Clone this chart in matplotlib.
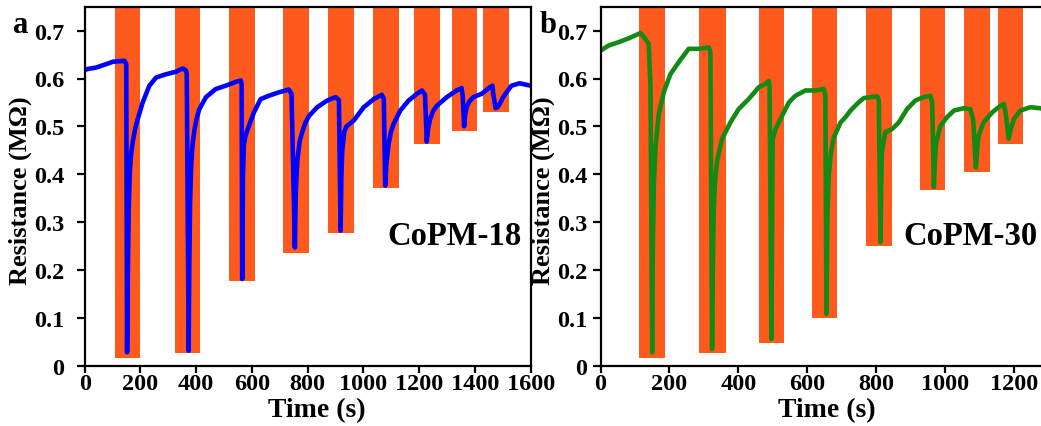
import matplotlib
matplotlib.use("Agg")
import matplotlib.pyplot as plt
from matplotlib.ticker import FuncFormatter

plt.rcParams['font.family'] = ['Liberation Serif', 'DejaVu Serif']
plt.rcParams['font.weight'] = 'bold'

# ---------------- data ----------------
# Panel a : CoPM-18
a_gas_on = [107, 324, 519, 710, 874, 1033, 1182, 1317, 1430]
a_gas_off = [199, 415, 610, 805, 966, 1126, 1274, 1409, 1522]
a_bar_low = [0.016, 0.026, 0.176, 0.235, 0.277, 0.371, 0.463, 0.490, 0.531]

a_time = [0, 12, 42, 77, 101, 143, 149, 152, 155, 158, 162, 167, 173, 181, 190, 208,
          232, 256, 292, 327, 351, 363, 366, 373, 375, 378, 382, 387, 393, 401, 411,
          435, 470, 506, 542, 560, 563, 565, 568, 571, 577, 589, 607, 631, 661, 696,
          732, 742, 754, 757, 763, 771, 781, 792, 805, 834, 870, 900, 912, 918, 921,
          924, 931, 939, 965, 1001, 1037, 1066, 1073, 1078, 1082, 1090, 1098, 1108,
          1132, 1162, 1192, 1210, 1221, 1227, 1232, 1239, 1250, 1263, 1299, 1334,
          1352, 1356, 1361, 1365, 1370, 1380, 1394, 1424, 1454, 1463, 1465, 1474,
          1481, 1489, 1500, 1513, 1531, 1560, 1600]
a_res = [0.618, 0.620, 0.623, 0.630, 0.635, 0.637, 0.630, 0.028, 0.200, 0.330, 0.405,
         0.445, 0.470, 0.495, 0.515, 0.550, 0.585, 0.602, 0.609, 0.614, 0.621, 0.617,
         0.610, 0.031, 0.200, 0.340, 0.420, 0.462, 0.490, 0.515, 0.536, 0.561, 0.578,
         0.585, 0.593, 0.596, 0.588, 0.181, 0.400, 0.462, 0.481, 0.501, 0.529, 0.557,
         0.564, 0.571, 0.577, 0.568, 0.247, 0.360, 0.430, 0.468, 0.490, 0.508, 0.522,
         0.540, 0.554, 0.561, 0.555, 0.282, 0.400, 0.450, 0.488, 0.500, 0.512, 0.540,
         0.557, 0.566, 0.558, 0.376, 0.420, 0.462, 0.487, 0.505, 0.533, 0.554, 0.568,
         0.575, 0.566, 0.468, 0.495, 0.515, 0.532, 0.543, 0.561, 0.575, 0.580, 0.565,
         0.500, 0.525, 0.540, 0.552, 0.561, 0.568, 0.582, 0.585, 0.570, 0.538, 0.540,
         0.547, 0.560, 0.571, 0.585, 0.590, 0.585]

# Panel b : CoPM-30
b_gas_on = [111, 287, 460, 613, 771, 927, 1055, 1153]
b_gas_off = [187, 363, 534, 687, 847, 1000, 1130, 1227]
b_bar_low = [0.016, 0.026, 0.047, 0.099, 0.250, 0.367, 0.405, 0.463]

b_time = [0, 24, 53, 82, 101, 116, 130, 140, 145, 150, 152, 155, 160, 169, 184, 203,
          227, 256, 285, 314, 319, 324, 326, 329, 333, 339, 353, 377, 401, 430, 460,
          479, 489, 491, 496, 500, 508, 527, 547, 566, 595, 624, 648, 653, 656, 659,
          663, 669, 677, 697, 711, 726, 745, 764, 803, 808, 813, 815, 817, 827, 846,
          866, 890, 914, 938, 958, 963, 968, 971, 975, 987, 1006, 1026, 1055, 1074,
          1082, 1090, 1094, 1098, 1112, 1137, 1161, 1171, 1176, 1185, 1190, 1200,
          1219, 1248, 1275, 1300]
b_res = [0.658, 0.669, 0.676, 0.684, 0.690, 0.695, 0.683, 0.672, 0.585, 0.028, 0.250,
         0.380, 0.460, 0.525, 0.572, 0.609, 0.634, 0.662, 0.662, 0.665, 0.655, 0.035,
         0.200, 0.330, 0.390, 0.430, 0.474, 0.508, 0.536, 0.557, 0.582, 0.589, 0.595,
         0.580, 0.056, 0.474, 0.494, 0.522, 0.550, 0.564, 0.575, 0.575, 0.578, 0.565,
         0.108, 0.320, 0.400, 0.445, 0.476, 0.508, 0.519, 0.533, 0.547, 0.559, 0.563,
         0.555, 0.258, 0.380, 0.446, 0.488, 0.494, 0.508, 0.536, 0.554, 0.561, 0.564,
         0.550, 0.373, 0.430, 0.467, 0.501, 0.519, 0.533, 0.538, 0.536, 0.515, 0.414,
         0.455, 0.481, 0.508, 0.529, 0.543, 0.547, 0.530, 0.474, 0.490, 0.515, 0.533,
         0.540, 0.538, 0.535]

y_ticks = [0, 0.1, 0.2, 0.3, 0.4, 0.5, 0.6, 0.7]
a_xticks = [0, 200, 400, 600, 800, 1000, 1200, 1400, 1600]
b_xticks = [0, 200, 400, 600, 800, 1000, 1200]

# ---------------- figure ----------------
W, H = 1041, 427
fig = plt.figure(figsize=(W / 100, H / 100), dpi=100)

BAR = '#FF5A1E'
YTOP = 0.75


def fmt(v, pos):
    return '0' if abs(v) < 1e-9 else f'{v:.1f}'


def make_panel(rect, xlim, xticks, on, off, low, t, r, color, name, name_x,
               letter, letter_x, ylab_x, xlab_x, ypad):
    ax = fig.add_axes(rect)
    widths = [b - a for a, b in zip(on, off)]
    heights = [1.0 - l for l in low]
    ax.bar(on, heights, bottom=low, width=widths, align='edge', color=BAR,
           linewidth=0, zorder=1)
    ax.plot(t, r, color=color, lw=3.3, zorder=2, solid_joinstyle='round')
    ax.set_xticks(xticks)
    ax.set_yticks(y_ticks)
    ax.set_xlim(*xlim)
    ax.set_ylim(0, YTOP)
    ax.yaxis.set_major_formatter(FuncFormatter(fmt))
    ax.tick_params(axis='both', direction='out', width=1.6, labelsize=17.5)
    ax.tick_params(axis='x', length=5, pad=0.5)
    ax.tick_params(axis='y', length=6, pad=ypad)
    for s in ax.spines.values():
        s.set_linewidth(1.6)
    ax.set_ylabel('Resistance (MΩ)', fontsize=19, fontweight='bold')
    ax.yaxis.set_label_coords(ylab_x, 0.49)
    ax.set_xlabel('Time (s)', fontsize=20, fontweight='bold')
    ax.xaxis.set_label_coords(xlab_x, -0.087)
    ax.text(name_x, 0.255, name, fontsize=23.5, fontweight='bold', ha='right',
            va='baseline', zorder=3)
    fig.text(letter_x, 0.922, letter, fontsize=22, fontweight='bold',
             ha='left', va='baseline')
    return ax


bottom = 1 - 366.7 / H
height = 359.0 / H

make_panel([84.7 / W, bottom, (530.7 - 84.7) / W, height], (0, 1600), a_xticks,
           a_gas_on, a_gas_off, a_bar_low, a_time, a_res, '#0000FF', 'CoPM-18',
           1568, 'a', 12.5 / W, -0.118, 0.52, 8.5)

make_panel([600.5 / W, bottom, 1300 * 0.3444 / W, height], (0, 1300), b_xticks,
           b_gas_on, b_gas_off, b_bar_low, b_time, b_res, '#138A13', 'CoPM-30',
           1268, 'b', 540 / W, -0.101, 0.505, 3.5)

fig.savefig('out.png', dpi=100)
